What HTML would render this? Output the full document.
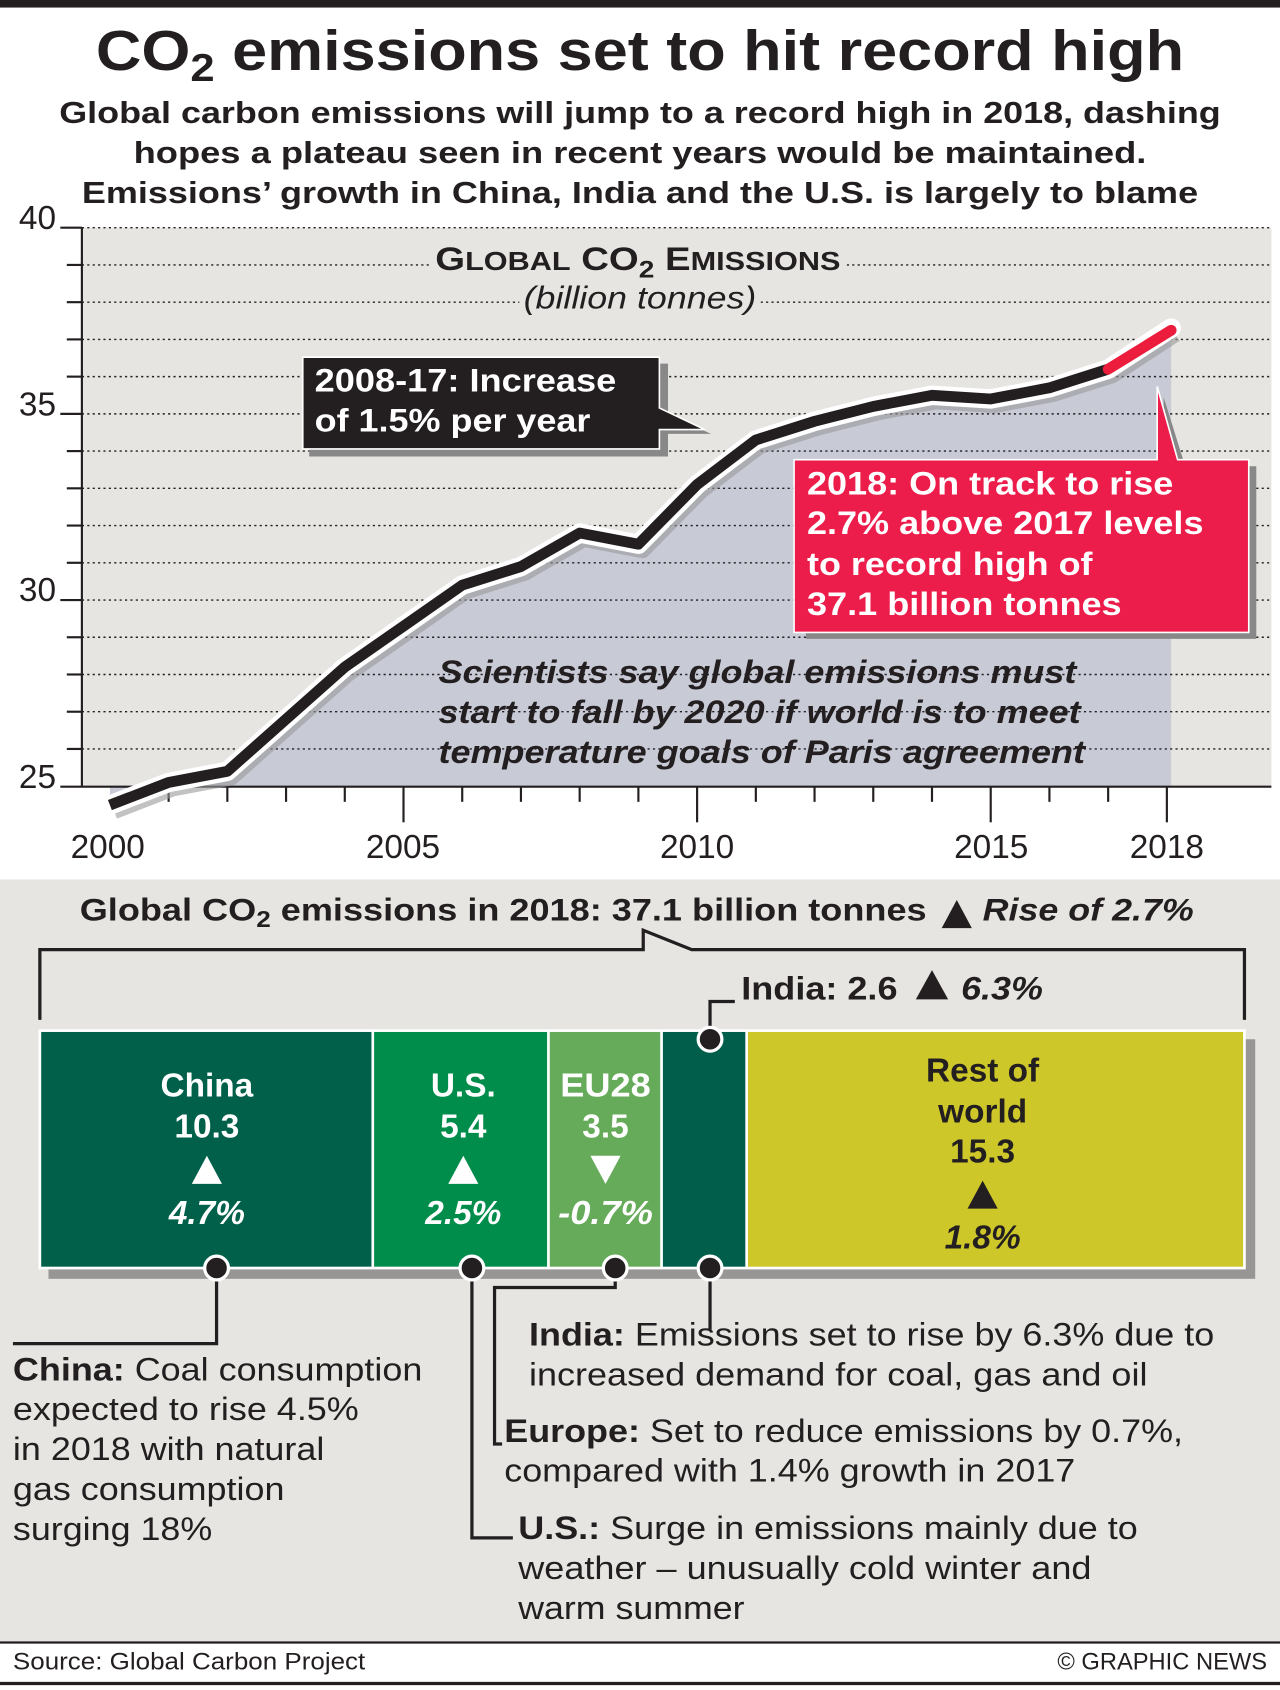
<!DOCTYPE html>
<html><head><meta charset="utf-8"><style>
html,body{margin:0;padding:0;background:#fff}
svg{display:block}
text{font-family:"Liberation Sans",Arial,sans-serif}
</style></head><body>
<svg width="1280" height="1690" viewBox="0 0 1188 1566" preserveAspectRatio="none" xmlns="http://www.w3.org/2000/svg">
<rect x="0" y="0" width="1188" height="1566" fill="#fff"/>
<rect x="0" y="0" width="1188" height="7" fill="#231f20"/>
<text x="594" y="65" text-anchor="middle" font-size="52" font-weight="bold" fill="#231f20" textLength="1010" lengthAdjust="spacingAndGlyphs">CO<tspan font-size="36" dy="10">2</tspan><tspan dy="-10"> emissions set to hit record high</tspan></text>
<g font-size="28" font-weight="bold" fill="#231f20" text-anchor="middle">
<text x="594" y="114" textLength="1078" lengthAdjust="spacingAndGlyphs">Global carbon emissions will jump to a record high in 2018, dashing</text>
<text x="594" y="151" textLength="940" lengthAdjust="spacingAndGlyphs">hopes a plateau seen in recent years would be maintained.</text>
<text x="594" y="188" textLength="1036" lengthAdjust="spacingAndGlyphs">Emissions’ growth in China, India and the U.S. is largely to blame</text>
</g>
<rect x="76" y="211" width="1104" height="518" fill="#e6e5e1"/>
<polygon fill="#c8cad6" points="102,746 156.5,725 211,714.7 265.5,666.4 320,618.1 374.5,580.2 429,542.2 483.5,525 538,493.9 592.5,504.3 647,449 701.5,407.7 756,390.4 810.5,376.6 865,366.3 919.5,369.7 974,359.4 1028.5,342.1 1087,304 1087,729 102,729"/>
<g stroke="#231f20" stroke-width="1.3" stroke-dasharray="2,3">
<line x1="76" y1="211" x2="1180" y2="211"/><line x1="76" y1="245.5" x2="1180" y2="245.5"/><line x1="76" y1="280" x2="1180" y2="280"/><line x1="76" y1="314.5" x2="1180" y2="314.5"/><line x1="76" y1="349" x2="1180" y2="349"/><line x1="76" y1="383.5" x2="1180" y2="383.5"/><line x1="76" y1="418" x2="1180" y2="418"/><line x1="76" y1="452.5" x2="1180" y2="452.5"/><line x1="76" y1="487" x2="1180" y2="487"/><line x1="76" y1="521.5" x2="1180" y2="521.5"/><line x1="76" y1="556" x2="1180" y2="556"/><line x1="76" y1="590.5" x2="1180" y2="590.5"/><line x1="76" y1="625" x2="1180" y2="625"/><line x1="76" y1="659.5" x2="1180" y2="659.5"/><line x1="76" y1="694" x2="1180" y2="694"/>
</g>
<g stroke="#231f20" stroke-width="2">
<line x1="76" y1="211" x2="76" y2="729"/>
<line x1="56" y1="729" x2="1180" y2="729"/>
<line x1="56" y1="211" x2="76" y2="211"/><line x1="56" y1="383.5" x2="76" y2="383.5"/><line x1="56" y1="556" x2="76" y2="556"/>
<line x1="62" y1="245.5" x2="76" y2="245.5"/><line x1="62" y1="280" x2="76" y2="280"/><line x1="62" y1="314.5" x2="76" y2="314.5"/><line x1="62" y1="349" x2="76" y2="349"/><line x1="62" y1="418" x2="76" y2="418"/><line x1="62" y1="452.5" x2="76" y2="452.5"/><line x1="62" y1="487" x2="76" y2="487"/><line x1="62" y1="521.5" x2="76" y2="521.5"/><line x1="62" y1="590.5" x2="76" y2="590.5"/><line x1="62" y1="625" x2="76" y2="625"/><line x1="62" y1="659.5" x2="76" y2="659.5"/><line x1="62" y1="694" x2="76" y2="694"/>
<line x1="156.5" y1="729" x2="156.5" y2="743"/><line x1="211" y1="729" x2="211" y2="743"/><line x1="265.5" y1="729" x2="265.5" y2="743"/><line x1="320" y1="729" x2="320" y2="743"/><line x1="374.5" y1="729" x2="374.5" y2="762"/><line x1="429" y1="729" x2="429" y2="743"/><line x1="483.5" y1="729" x2="483.5" y2="743"/><line x1="538" y1="729" x2="538" y2="743"/><line x1="592.5" y1="729" x2="592.5" y2="743"/><line x1="647" y1="729" x2="647" y2="762"/><line x1="701.5" y1="729" x2="701.5" y2="743"/><line x1="756" y1="729" x2="756" y2="743"/><line x1="810.5" y1="729" x2="810.5" y2="743"/><line x1="865" y1="729" x2="865" y2="743"/><line x1="919.5" y1="729" x2="919.5" y2="762"/><line x1="974" y1="729" x2="974" y2="743"/><line x1="1028.5" y1="729" x2="1028.5" y2="743"/><line x1="1083" y1="729" x2="1083" y2="762"/>
</g>
<g font-size="31" fill="#231f20">
<text x="52" y="212" text-anchor="end">40</text><text x="52" y="385" text-anchor="end">35</text><text x="52" y="557" text-anchor="end">30</text><text x="52" y="730" text-anchor="end">25</text>
<text x="100" y="795" text-anchor="middle">2000</text><text x="374" y="795" text-anchor="middle">2005</text><text x="647" y="795" text-anchor="middle">2010</text><text x="920" y="795" text-anchor="middle">2015</text><text x="1083" y="795" text-anchor="middle">2018</text>
</g>
<rect x="400" y="222" width="384" height="32" fill="#e6e5e1"/>
<text x="592" y="250" text-anchor="middle" font-size="30" font-weight="bold" fill="#231f20" textLength="376" lengthAdjust="spacingAndGlyphs">G<tspan font-size="24">LOBAL</tspan> CO<tspan font-size="22" dy="7">2</tspan><tspan dy="-7"> E</tspan><tspan font-size="24">MISSIONS</tspan></text>
<rect x="482" y="258" width="224" height="34" fill="#e6e5e1"/>
<text x="594" y="286" text-anchor="middle" font-size="29" font-style="italic" fill="#231f20" textLength="216" lengthAdjust="spacingAndGlyphs">(billion tonnes)</text>
<polyline fill="none" stroke="#999" stroke-width="14" stroke-linejoin="round" opacity="0.6" points="106,752 160.5,731 215,720.7 269.5,672.4 324,624.1 378.5,586.2 433,548.2 487.5,531 542,499.9 596.5,510.3 651,455 705.5,413.7 760,396.4 814.5,382.6 869,372.3 923.5,375.7 978,365.4 1032.5,348.1 1091,310"/>
<polyline fill="none" stroke="#fff" stroke-width="18" stroke-linejoin="round" stroke-linecap="round" points="102,746 156.5,725 211,714.7 265.5,666.4 320,618.1 374.5,580.2 429,542.2 483.5,525 538,493.9 592.5,504.3 647,449 701.5,407.7 756,390.4 810.5,376.6 865,366.3 919.5,369.7 974,359.4 1028.5,342.1 1087,304"/>
<polyline fill="none" stroke="#231f20" stroke-width="10" stroke-linejoin="round" points="102,746 156.5,725 211,714.7 265.5,666.4 320,618.1 374.5,580.2 429,542.2 483.5,525 538,493.9 592.5,504.3 647,449 701.5,407.7 756,390.4 810.5,376.6 865,366.3 919.5,369.7 974,359.4 1028.5,342.1"/>
<line x1="1028.5" y1="342.1" x2="1087" y2="306" stroke="#ec1c3c" stroke-width="10" stroke-linecap="round"/>
<polygon points="287,337 620,337 620,384 660,402 620,402 620,423 287,423" fill="#888"/>
<polygon points="281,331 612,331 612,378 654,398 612,398 612,416 281,416" fill="#231f20" stroke="#fff" stroke-width="1.5"/>
<text x="292" y="363" font-size="30" font-weight="bold" fill="#fff" textLength="280" lengthAdjust="spacingAndGlyphs">2008-17: Increase</text>
<text x="292" y="400" font-size="30" font-weight="bold" fill="#fff" textLength="256" lengthAdjust="spacingAndGlyphs">of 1.5% per year</text>
<polygon points="748,432 1080,432 1080,368 1100,432 1166,432 1166,592 748,592" fill="#888"/>
<polygon points="737,426 1074,426 1074,358 1093,426 1159,426 1159,586 737,586" fill="#ec1c4b" stroke="#fff" stroke-width="1.5"/>
<g font-size="30" font-weight="bold" fill="#fff">
<text x="749" y="458" textLength="340" lengthAdjust="spacingAndGlyphs">2018: On track to rise</text>
<text x="749" y="495" textLength="368" lengthAdjust="spacingAndGlyphs">2.7% above 2017 levels</text>
<text x="749" y="533" textLength="265" lengthAdjust="spacingAndGlyphs">to record high of</text>
<text x="749" y="570" textLength="292" lengthAdjust="spacingAndGlyphs">37.1 billion tonnes</text>
</g>
<g font-size="30" font-weight="bold" font-style="italic" fill="#231f20">
<text x="407" y="633" textLength="592" lengthAdjust="spacingAndGlyphs">Scientists say global emissions must</text>
<text x="407" y="670" textLength="596" lengthAdjust="spacingAndGlyphs">start to fall by 2020 if world is to meet</text>
<text x="407" y="707" textLength="600" lengthAdjust="spacingAndGlyphs">temperature goals of Paris agreement</text>
</g>
<rect x="0" y="815" width="1188" height="706" fill="#e6e5e1"/>
<text x="74" y="853" font-size="29" font-weight="bold" fill="#231f20" textLength="786" lengthAdjust="spacingAndGlyphs">Global CO<tspan font-size="21" dy="6">2</tspan><tspan dy="-6"> emissions in 2018: 37.1 billion tonnes</tspan></text>
<polygon points="874,860 902,860 888,834" fill="#231f20"/>
<text x="912" y="853" font-size="29" font-weight="bold" font-style="italic" fill="#231f20" textLength="196" lengthAdjust="spacingAndGlyphs">Rise of 2.7%</text>
<polyline fill="none" stroke="#231f20" stroke-width="3" points="37,945 37,880 597,880 597,862 642,880 1155,880 1155,945"/>
<rect x="45" y="963" width="1120" height="222" fill="#555" opacity="0.55"/>
<rect x="37" y="955" width="309" height="220" fill="#00604a"/>
<rect x="346" y="955" width="163" height="220" fill="#008c4a"/>
<rect x="509" y="955" width="105" height="220" fill="#66ab5a"/>
<rect x="614" y="955" width="79" height="220" fill="#005e4a"/>
<rect x="693" y="955" width="462" height="220" fill="#cdc72a"/>
<g stroke="#fff" stroke-width="2.5" fill="none"><rect x="37" y="955" width="1118" height="220"/><line x1="346" y1="955" x2="346" y2="1175"/><line x1="509" y1="955" x2="509" y2="1175"/><line x1="614" y1="955" x2="614" y2="1175"/><line x1="693" y1="955" x2="693" y2="1175"/></g>
<g font-size="31" font-weight="bold" fill="#fff" text-anchor="middle">
<text x="192" y="1016">China</text><text x="192" y="1054">10.3</text>
<text x="430" y="1016">U.S.</text><text x="430" y="1054">5.4</text>
<text x="562" y="1016" textLength="84" lengthAdjust="spacingAndGlyphs">EU28</text><text x="562" y="1054">3.5</text>
<text x="192" y="1134" font-style="italic">4.7%</text><text x="430" y="1134" font-style="italic">2.5%</text><text x="562" y="1134" font-style="italic" textLength="88" lengthAdjust="spacingAndGlyphs">-0.7%</text>
</g>
<polygon points="178,1097 206,1097 192,1071" fill="#fff"/>
<polygon points="416,1097 444,1097 430,1071" fill="#fff"/>
<polygon points="548,1071 576,1071 562,1097" fill="#fff"/>
<g font-size="31" font-weight="bold" fill="#231f20" text-anchor="middle">
<text x="912" y="1002">Rest of</text><text x="912" y="1040">world</text><text x="912" y="1077">15.3</text>
<text x="912" y="1157" font-style="italic">1.8%</text>
</g>
<polygon points="898,1120 926,1120 912,1094" fill="#231f20"/>
<polyline fill="none" stroke="#231f20" stroke-width="3" points="659,960 659,928 682,928"/>
<circle cx="659" cy="963" r="11" fill="#231f20" stroke="#fff" stroke-width="3"/>
<text x="688" y="926" font-size="30" font-weight="bold" fill="#231f20" textLength="145" lengthAdjust="spacingAndGlyphs">India: 2.6</text>
<polygon points="850,926 880,926 865,899" fill="#231f20"/>
<text x="892" y="926" font-size="30" font-weight="bold" font-style="italic" fill="#231f20" textLength="76" lengthAdjust="spacingAndGlyphs">6.3%</text>
<g fill="none" stroke="#231f20" stroke-width="3">
<polyline points="201,1175 201,1245 12,1245"/>
<polyline points="438,1175 438,1425 476,1425"/>
<polyline points="571,1175 571,1193 459,1193 459,1338 466,1338"/>
<polyline points="659,1175 659,1232"/>
</g>
<g fill="#231f20" stroke="#fff" stroke-width="3">
<circle cx="201" cy="1175" r="11"/><circle cx="438" cy="1175" r="11"/><circle cx="571" cy="1175" r="11"/><circle cx="659" cy="1175" r="11"/>
</g>
<g font-size="30" fill="#231f20">
<text x="12" y="1279" textLength="380" lengthAdjust="spacingAndGlyphs"><tspan font-weight="bold">China:</tspan> Coal consumption</text>
<text x="12" y="1316" textLength="321" lengthAdjust="spacingAndGlyphs">expected to rise 4.5%</text>
<text x="12" y="1353" textLength="289" lengthAdjust="spacingAndGlyphs">in 2018 with natural</text>
<text x="12" y="1390" textLength="252" lengthAdjust="spacingAndGlyphs">gas consumption</text>
<text x="12" y="1427" textLength="185" lengthAdjust="spacingAndGlyphs">surging 18%</text>
<text x="491" y="1247" textLength="636" lengthAdjust="spacingAndGlyphs"><tspan font-weight="bold">India:</tspan> Emissions set to rise by 6.3% due to</text>
<text x="491" y="1284" textLength="574" lengthAdjust="spacingAndGlyphs">increased demand for coal, gas and oil</text>
<text x="468" y="1336" textLength="630" lengthAdjust="spacingAndGlyphs"><tspan font-weight="bold">Europe:</tspan> Set to reduce emissions by 0.7%,</text>
<text x="468" y="1373" textLength="530" lengthAdjust="spacingAndGlyphs">compared with 1.4% growth in 2017</text>
<text x="481" y="1426" textLength="575" lengthAdjust="spacingAndGlyphs"><tspan font-weight="bold">U.S.:</tspan> Surge in emissions mainly due to</text>
<text x="481" y="1463" textLength="532" lengthAdjust="spacingAndGlyphs">weather – unusually cold winter and</text>
<text x="481" y="1500" textLength="210" lengthAdjust="spacingAndGlyphs">warm summer</text>
</g>
<line x1="0" y1="1522" x2="1188" y2="1522" stroke="#231f20" stroke-width="2"/>
<text x="12" y="1547" font-size="22" fill="#231f20" textLength="327" lengthAdjust="spacingAndGlyphs">Source: Global Carbon Project</text>
<text x="1176" y="1547" font-size="22" fill="#231f20" text-anchor="end">© GRAPHIC NEWS</text>
<line x1="0" y1="1560" x2="1188" y2="1560" stroke="#231f20" stroke-width="3"/>
</svg>
</body></html>
